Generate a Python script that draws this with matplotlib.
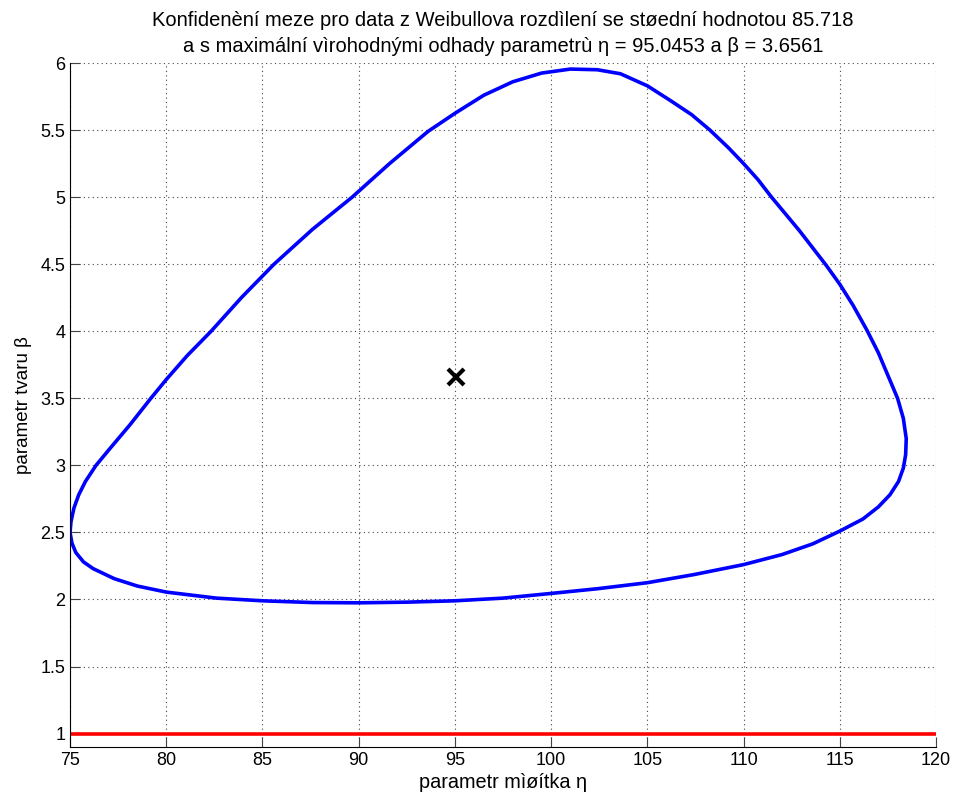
import numpy as np
import matplotlib.pyplot as plt

plt.rcParams['font.family'] = ['Liberation Sans', 'DejaVu Sans']

# hranice konfidencni oblasti
eta_pts = [75.0, 75.05, 75.2, 75.45, 75.8, 76.35, 77.1, 78.1, 79.2, 80.0, 81.1,
           82.33, 83.9, 85.6, 87.6, 89.66, 91.6, 93.6, 95.0, 96.5, 98.0, 99.5,
           101.0, 102.4, 103.6, 105.0, 106.2, 107.3, 108.25, 109.2, 110.0, 110.75,
           111.45, 112.9, 114.3, 115.0, 115.7, 116.4, 117.0, 117.5, 118.0, 118.3,
           118.45, 118.42, 118.3, 118.05, 117.6, 117.0, 116.2, 115.0, 113.6, 112.0,
           110.0, 107.4, 105.0, 102.4, 100.0, 97.5, 95.0, 92.5, 90.0, 87.6, 85.0,
           82.6, 80.0, 78.5, 77.3, 76.2, 75.7, 75.3, 75.1, 75.0]
beta_pts = [2.50, 2.58, 2.68, 2.78, 2.88, 3.00, 3.13, 3.30, 3.50, 3.64, 3.82,
            4.00, 4.25, 4.50, 4.76, 5.00, 5.25, 5.49, 5.625, 5.76, 5.86, 5.925,
            5.955, 5.95, 5.92, 5.83, 5.72, 5.615, 5.50, 5.37, 5.25, 5.13,
            5.00, 4.75, 4.49, 4.35, 4.19, 4.01, 3.84, 3.67, 3.50, 3.35,
            3.20, 3.08, 2.98, 2.88, 2.78, 2.69, 2.60, 2.51, 2.415, 2.335,
            2.26, 2.185, 2.125, 2.08, 2.045, 2.01, 1.99, 1.98, 1.975, 1.977, 1.99,
            2.01, 2.055, 2.10, 2.155, 2.23, 2.28, 2.35, 2.42, 2.50]

eta_hat = 95.0453
beta_hat = 3.6561
beta_ref = 1.0

fig = plt.figure(figsize=(9.58, 8.02), dpi=100)
ax = fig.add_axes([0.0731, 0.0686, 0.9040, 0.8528])

ax.plot(eta_pts, beta_pts, color='#0000ff', lw=2.6, solid_joinstyle='round')
ax.plot(eta_hat, beta_hat, 'x', color='black', ms=12, mew=3)
ax.plot([75, 120], [beta_ref, beta_ref], color='#ff0000', lw=2.6)

ax.set_xlim(75, 120)
ax.set_ylim(0.9, 6)
ax.set_xticks(np.arange(75, 121, 5))
ax.set_yticks([1, 1.5, 2, 2.5, 3, 3.5, 4, 4.5, 5, 5.5, 6])
ax.set_yticklabels(['1', '1.5', '2', '2.5', '3', '3.5', '4', '4.5', '5', '5.5', '6'])
ax.grid(True, linestyle=(0, (1, 3)), color='#444444', lw=0.8)
ax.tick_params(direction='in', length=7, labelsize=13, color='#444444')
ax.spines['top'].set_visible(False)
ax.spines['right'].set_visible(False)

ax.set_title('Konfidenèní meze pro data z Weibullova rozdìlení se støední hodnotou 85.718\n'
             'a s maximální vìrohodnými odhady parametrù η = 95.0453 a β = 3.6561',
             fontsize=14.5, pad=8, linespacing=1.45)
ax.set_xlabel('parametr mìøítka η', fontsize=14.3, labelpad=3)
ax.set_ylabel('parametr tvaru β', fontsize=13.5, labelpad=6)

fig.savefig('out.png', dpi=100)
